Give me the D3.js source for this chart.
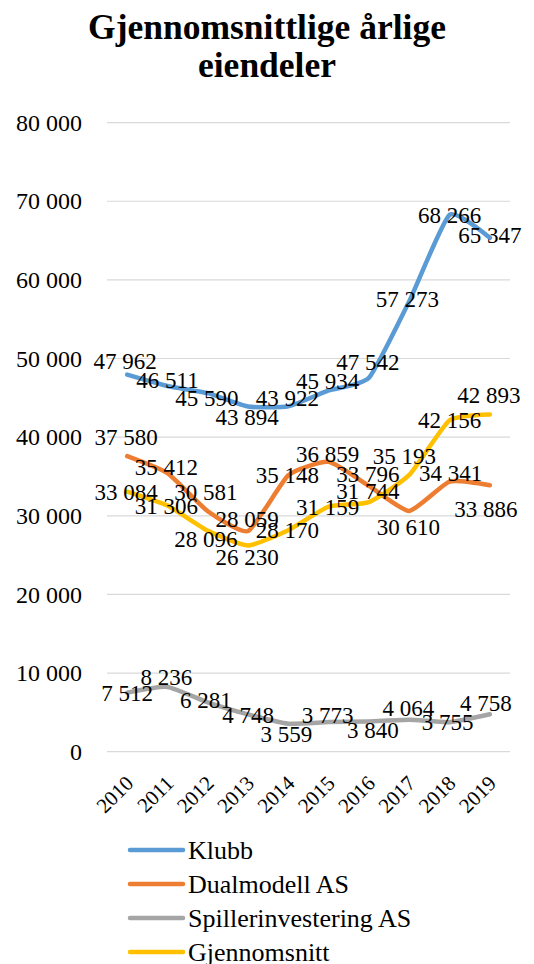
<!DOCTYPE html>
<html><head><meta charset="utf-8">
<script src="https://cdn.jsdelivr.net/npm/d3@7"></script>
<style>
html,body{margin:0;padding:0;background:#fff;}
svg{display:block;}
text{font-family:"Liberation Serif","Times New Roman",serif;fill:#000;}
</style></head>
<body>
<svg id="chart" width="534" height="964"></svg>
<script>
const title = ["Gjennomsnittlige årlige", "eiendeler"];
const categories = ["2010","2011","2012","2013","2014","2015","2016","2017","2018","2019"];
const seriesNames = ["Klubb","Dualmodell AS","Spillerinvestering AS","Gjennomsnitt"];
const klubb = [47962,46511,45590,43894,43922,45934,47542,57273,68266,65347];
const dualmodell = [37580,35412,30581,28059,35148,36859,33796,30610,34341,33886];
const spillerinvestering = [7512,8236,6281,4748,3559,3773,3840,4064,3755,4758];
const gjennomsnitt = [33084,31306,28096,26230,28170,31159,31744,35193,42156,42893];
const yTicks = [0,10000,20000,30000,40000,50000,60000,70000,80000];

// styling / layout config (label nudges in px, relative to the point)
const colors = ["#5B9BD5","#ED7D31","#A5A5A5","#FFC000"];
const labelNudge = [
  [[-2,-14],[0,-6],[-1,5],[-1,10],[-1,-8],[-1,-10],[-1,-16],[-2,-2],[0,0],[0,-3]],
  [[-1,-19],[-1,-6],[-2,-19],[-1,-12],[-1,0],[-1,-8],[-1,-12],[-1,16],[1,-9],[-4,24]],
  [[0,0],[-1,-10],[-2,-2],[0,1],[-2,10],[-1,-7],[4,8],[-1,-12],[-2,0],[-4,-11]],
  [[-1,0],[-1,0],[-2,8],[-1,12],[-1,0],[-1,0],[-1,-11],[-5,-19],[0,0],[-1,-19]]
];

const seriesValues = [klubb, dualmodell, spillerinvestering, gjennomsnitt];
const svg = d3.select("#chart");
const fmt = v => d3.format(",")(v).replace(/,/g, "\u00A0");

const plotLeft = 107, plotRight = 510, plotTop = 122.6, plotBottom = 751.7;
const x = d3.scalePoint().domain(categories).range([plotLeft, plotRight]).padding(0.5);
const y = d3.scaleLinear().domain([0, 80000]).range([plotBottom, plotTop]);

// title
svg.append("g").selectAll("text").data(title).join("text")
  .attr("x", 267).attr("y", (d,i) => 39 + i*38)
  .attr("text-anchor","middle")
  .attr("font-size", 35.5).attr("font-weight","bold")
  .text(d => d);

// gridlines
svg.append("g").selectAll("line").data(yTicks).join("line")
  .attr("x1", plotLeft).attr("x2", plotRight)
  .attr("y1", d => y(d)).attr("y2", d => y(d))
  .attr("stroke","#d9d9d9").attr("stroke-width",1.2);

// y axis labels
const yAxis = d3.axisLeft(y).tickValues(yTicks).tickFormat(fmt).tickSize(0).tickPadding(0);
const gy = svg.append("g").attr("transform",`translate(82,0)`).call(yAxis);
gy.select(".domain").remove();
gy.selectAll("text").attr("font-size",24).attr("font-family",'"Liberation Serif","Times New Roman",serif').attr("fill","#000");

// x axis labels
const xAxis = d3.axisBottom(x).tickSize(0).tickPadding(0);
const gx = svg.append("g").attr("transform",`translate(0,${plotBottom})`).call(xAxis);
gx.select(".domain").remove();
gx.selectAll("text")
  .attr("font-size",21).attr("font-family",'"Liberation Serif","Times New Roman",serif').attr("fill","#000")
  .attr("text-anchor","end").attr("dy",null).attr("y",0)
  .attr("transform","translate(2,28) rotate(-45)")
  .attr("dominant-baseline","central");

// lines
const line = d3.line().x((d,i) => x(categories[i])).y(d => y(d)).curve(d3.curveCardinal.tension(0.5));
svg.append("g").selectAll("path").data(seriesValues).join("path")
  .attr("d", d => line(d))
  .attr("fill","none")
  .attr("stroke",(d,i) => colors[i])
  .attr("stroke-width",4.5)
  .attr("stroke-linecap","round")
  .attr("stroke-linejoin","round");

// data labels
seriesValues.forEach((vals, s) => {
  svg.append("g").selectAll("text").data(vals).join("text")
    .attr("x",(d,i) => x(categories[i]) + labelNudge[s][i][0])
    .attr("y",(d,i) => y(d) + labelNudge[s][i][1])
    .attr("dy","0.35em")
    .attr("text-anchor","middle")
    .attr("font-size",23)
    .text(d => fmt(d));
});

// legend
const lg = svg.append("g").selectAll("g").data(seriesNames).join("g")
  .attr("transform",(d,i) => `translate(130,${850 + i*34})`);
lg.append("line").attr("x1",0).attr("x2",53).attr("y1",0).attr("y2",0)
  .attr("stroke",(d,i) => colors[i]).attr("stroke-width",4.5).attr("stroke-linecap","round");
lg.append("text").attr("x",58).attr("y",0).attr("dy","0.35em").attr("font-size",26).text(d => d);
</script>
</body></html>
